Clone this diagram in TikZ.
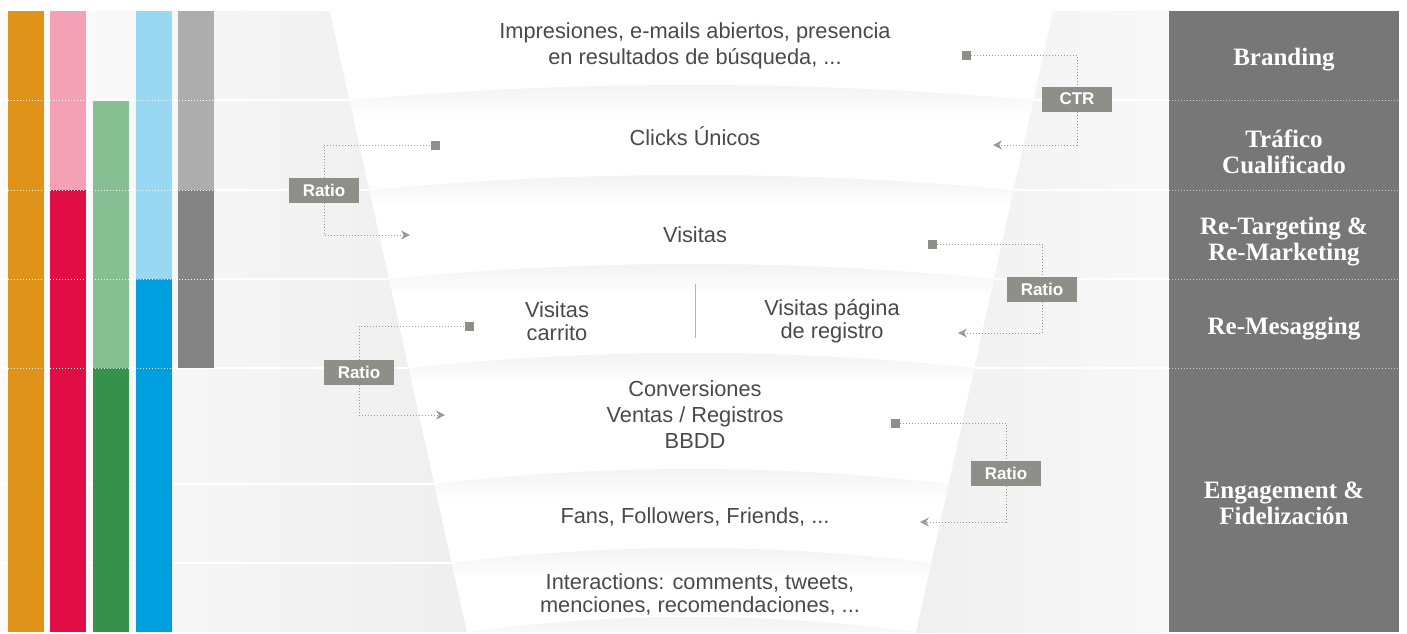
\documentclass[tikz,border=0pt]{standalone}
\usepackage{fontspec}
\setmainfont{Liberation Sans}
\newfontfamily\phasefont{Liberation Serif}
\usetikzlibrary{arrows.meta, positioning}

\definecolor{barOrange}{HTML}{DF9419}
\definecolor{barPink}{HTML}{F4A0B5}
\definecolor{barRed}{HTML}{E10E45}
\definecolor{barGreenL}{HTML}{86BF92}
\definecolor{barGreen}{HTML}{36924A}
\definecolor{barBlueL}{HTML}{99D8F3}
\definecolor{barBlue}{HTML}{009FE0}
\definecolor{barGreyL}{HTML}{ADADAE}
\definecolor{barGreyD}{HTML}{848484}
\definecolor{panelGrey}{HTML}{777777}
\definecolor{boxGrey}{HTML}{8F8F8A}
\definecolor{lineGrey}{HTML}{9A9A9A}
\definecolor{textGrey}{HTML}{4A4A4A}

\begin{document}
\begin{tikzpicture}[x=1pt, y=-1pt,
    stage/.style={text=textGrey, align=center, inner sep=0pt, font=\fontsize{21.8}{26}\selectfont},
    tight/.style={font=\fontsize{21.8}{23}\selectfont},
    phase/.style={text=white, align=center, inner sep=0pt, font=\phasefont\bfseries\fontsize{25}{26}\selectfont},
    ratio/.style={fill=boxGrey, text=white, inner sep=0pt, minimum width=70pt, minimum height=25pt, font=\bfseries\fontsize{17}{17}\selectfont},
    srcmark/.style={fill=boxGrey, inner sep=0pt, minimum size=9pt},
    link/.style={draw=lineGrey, line width=1pt, dash pattern=on 1pt off 2pt, -{Stealth[length=9pt, width=9pt, inset=3pt, fill=lineGrey]}}]
    \useasboundingbox (0,0) rectangle (1407,633);

    % grey sides and row lines
    \shade[left color=gray!3, right color=gray!13] (0,11) -- (330,11) -- (467,632) -- (0,632) -- cycle;
    \shade[left color=gray!12, right color=gray!5] (916,11) -- (1169,11) -- (1169,632) -- (916,632) -- cycle;
    \foreach \y in {100,190,279,368}
        \draw[white, line width=2pt] (0,\y) -- (1169,\y);
    \foreach \y in {484,563}
        \draw[white, line width=2pt] (0,\y) -- (480,\y);

    % funnel
    \fill[white] (330,11) -- (1053,11) -- (916,632) -- (467,632) -- cycle;
    \begin{scope}
        \clip (330,11) -- (1053,11) -- (916,632) -- (467,632) -- cycle;
        \foreach \y in {100,190,279,368,484,563,632} {
            \pgfmathsetmacro\xl{330+0.22*(\y-11)}
            \pgfmathsetmacro\xr{1053-0.22*(\y-11)}
            \pgfmathsetmacro\xa{\xl+(\xr-\xl)/3}
            \pgfmathsetmacro\xb{\xr-(\xr-\xl)/3}
            \shade[top color=gray!11, bottom color=white]
                (\xl,\y) .. controls (\xa,\y-20) and (\xb,\y-20) .. (\xr,\y)
                -- (\xr,\y+16) -- (\xl,\y+16) -- cycle;
        }
    \end{scope}

    % coloured bars
    \fill[barOrange] (8,11) rectangle (44,632);
    \fill[barPink] (50,11) rectangle (86,190);
    \fill[barRed] (50,190) rectangle (86,632);
    \fill[barGreenL] (93,101) rectangle (129,368);
    \fill[barGreen] (93,368) rectangle (129,632);
    \fill[barBlueL] (136,11) rectangle (172,279);
    \fill[barBlue] (136,279) rectangle (172,632);
    \fill[barGreyL] (178,11) rectangle (214,190);
    \fill[barGreyD] (178,190) rectangle (214,368);
    \foreach \y in {100,190,279,368}
        \draw[white, line width=1pt, dash pattern=on 1pt off 2pt] (8,\y) -- (214,\y);

    % phase panel
    \fill[panelGrey] (1169,11) rectangle (1399,632);
    \foreach \y in {100,190,279,368}
        \draw[gray!45, line width=1pt, dash pattern=on 1pt off 2pt] (1169,\y) -- (1399,\y);

    \node[phase] (brand) at (1284,60) {Branding};
    \node[phase] (traffic) at (1284,152) {Tráfico\\Cualificado};
    \node[phase] (retarget) at (1284,242) {Re-Targeting \&\\Re-Marketing};
    \node[phase] (remsg) at (1284,329) {Re-Mesagging};
    \node[phase] (engage) at (1284,503) {Engagement \&\\Fidelización};

    % funnel stages
    \node[stage] (impr) at (695,46) {Impresiones, e-mails abiertos, presencia\\en resultados de búsqueda, ...};
    \node[stage] (clicks) at (695,136) {Clicks Únicos};
    \node[stage] (visits) at (695,235) {Visitas};
    \node[stage, tight] (cart) at (557,321) {Visitas\\carrito};
    \node[stage, tight] (signup) at (832,321) {Visitas página\\de registro};
    \draw[gray!60, line width=1pt] (695,284) -- (695,338);
    \node[stage] (conv) at (695,415) {Conversiones\\Ventas / Registros\\BBDD};
    \node[stage] (fans) at (695,517) {Fans, Followers, Friends, ...};
    \node[stage, tight] (inter) at (700,594) {Interactions: comments, tweets,\\menciones, recomendaciones, ...};

    % ratios between stages
    \node[srcmark] (m0) at (966,55) {};
    \node[ratio] (ctr) at (1077,99) {CTR};
    \coordinate (t0) at (993,145);
    \draw[link] (m0) -| (ctr) |- (t0);

    \node[srcmark] (m1) at (435,145) {};
    \node[ratio] (r1) at (324,190) {Ratio};
    \coordinate (t1) at (410,235);
    \draw[link] (m1) -| (r1) |- (t1);

    \node[srcmark] (m2) at (932,244) {};
    \node[ratio] (r2) at (1042,289) {Ratio};
    \coordinate (t2) at (958,333);
    \draw[link] (m2) -| (r2) |- (t2);

    \node[srcmark] (m3) at (469,326) {};
    \node[ratio] (r3) at (359,372) {Ratio};
    \coordinate (t3) at (445,415);
    \draw[link] (m3) -| (r3) |- (t3);

    \node[srcmark] (m4) at (895,423) {};
    \node[ratio] (r4) at (1006,473) {Ratio};
    \coordinate (t4) at (920,522);
    \draw[link] (m4) -| (r4) |- (t4);
\end{tikzpicture}
\end{document}
